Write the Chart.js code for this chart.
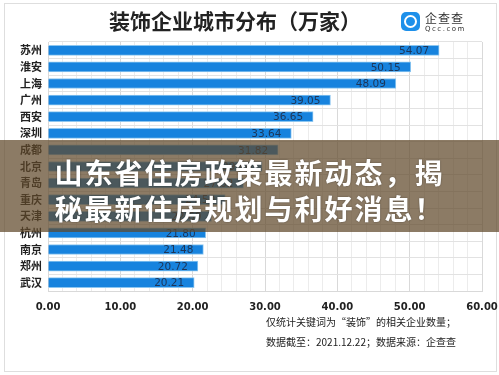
<!DOCTYPE html>
<html>
<head>
<meta charset="utf-8">
<script src="https://cdn.jsdelivr.net/npm/chart.js@4.4.0/dist/chart.umd.min.js"></script>
<style>
  html, body { margin: 0; padding: 0; background: #fff; }
  body { width: 499px; height: 375px; position: relative; overflow: hidden; font-family: "Noto Sans CJK SC", sans-serif; }
  #frame { position: absolute; left: 4px; top: 3px; width: 491px; height: 367px; border: 1px solid #dedede; }
  #wrap { position: absolute; left: 0; top: 0; width: 499px; height: 375px; }
  #title { position: absolute; left: 0; width: 470px; top: 5px; text-align: center; font-size: 21px; font-weight: bold; color: #222; }
  #logo { position: absolute; left: 401px; top: 12px; width: 19px; height: 19px; border-radius: 5px; background: #1e90ea; }
  #logo div { position: absolute; left: 3px; top: 3px; width: 9px; height: 9px; border: 2px solid #fff; border-radius: 50%; }
  #logoText { position: absolute; left: 425px; top: 9px; font-size: 12px; color: #333; letter-spacing: 1px; }
  #logoSub { position: absolute; left: 425px; top: 25px; font-size: 7px; color: #333; letter-spacing: 1.5px; font-family: "DejaVu Sans", sans-serif; }
  .note { position: absolute; left: 266px; font-size: 10px; color: #222; }
  #banner { position: absolute; left: 0; top: 140px; width: 499px; height: 92px; background: rgba(95, 72, 42, 0.72); }
  #banner div { position: absolute; left: 0; width: 499px; text-align: center; color: #fff; font-size: 28px; font-weight: bold; letter-spacing: 2px; text-shadow: 0 0 2px rgba(0,0,0,0.4); }
</style>
</head>
<body>
<div id="frame"></div>
<div id="wrap"><canvas id="myChart" width="499" height="375"></canvas></div>
<div id="title">装饰企业城市分布（万家）</div>
<div id="logo"><div></div></div>
<div id="logoText">企查查</div>
<div id="logoSub">Qcc.com</div>
<div class="note" style="top:314px">仅统计关键词为“装饰”的相关企业数量；</div>
<div class="note" style="top:334px">数据截至：2021.12.22；数据来源：企查查</div>
<div id="banner">
  <div style="top:12px">山东省住房政策最新动态，揭</div>
  <div style="top:48px">秘最新住房规划与利好消息！</div>
</div>
<script>
// city names and company counts (10k)
const cities = ['苏州','淮安','上海','广州','西安','深圳','成都','北京','青岛','重庆','天津','杭州','南京','郑州','武汉'];
const counts = [54.07, 50.15, 48.09, 39.05, 36.65, 33.64, 31.82, 29.6, 27.02, 24.5, 22.6, 21.80, 21.48, 20.72, 20.21];
const xMax = 60;

// write value at end of each bar
const barLabels = {
  id: 'barLabels',
  afterDatasetsDraw(chart) {
    const ctx = chart.ctx;
    const meta = chart.getDatasetMeta(0);
    ctx.save();
    ctx.font = '10.5px "DejaVu Sans"';
    ctx.fillStyle = '#1d3557';
    ctx.textAlign = 'right';
    ctx.textBaseline = 'middle';
    meta.data.forEach((bar, i) => {
      ctx.fillText(counts[i].toFixed(2), bar.x - 10, bar.y + 1);
    });
    ctx.restore();
  }
};

let myChart = new Chart(document.getElementById('myChart'), {
  type: 'bar',
  data: {
    labels: cities,
    datasets: [{
      data: counts,
      backgroundColor: '#1783de',
      borderColor: '#8cc6f0',
      borderWidth: 1,
      barThickness: 10
    }]
  },
  plugins: [barLabels],
  options: {
    indexAxis: 'y',
    responsive: false,
    animation: false,
    layout: { padding: { left: 6, right: 17, top: 42, bottom: 52 } },
    plugins: { legend: { display: false }, tooltip: { enabled: false } },
    scales: {
      x: {
        min: 0, max: xMax,
        afterFit(scale) { scale.paddingLeft = 0; scale.paddingRight = 0; },
        ticks: {
          stepSize: 2,
          autoSkip: false,
          maxRotation: 0,
          color: '#222',
          font: { family: 'DejaVu Sans', size: 10, weight: 'bold' },
          padding: 10,
          callback: v => (v % 10 === 0 ? v.toFixed(2) : '')
        },
        grid: {
          color: c => (c.tick && c.tick.value % 10 === 0 ? '#d9d9d9' : '#ececec'),
          drawTicks: false
        },
        border: { color: '#d9d9d9' }
      },
      y: {
        afterFit(scale) { scale.width = 42; },
        ticks: {
          autoSkip: false,
          color: '#222',
          font: { family: 'Noto Sans CJK SC', size: 11, weight: 'bold' },
          padding: 6
        },
        grid: { color: '#e2e2e2', drawTicks: false },
        border: { color: '#d9d9d9' }
      }
    }
  }
});
</script>
</body>
</html>
